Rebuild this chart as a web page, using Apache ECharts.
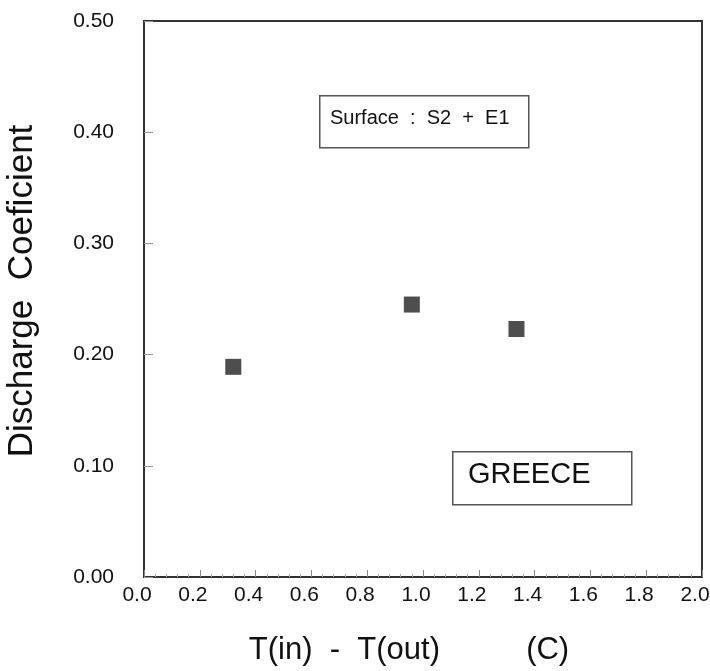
<!DOCTYPE html>
<html>
<head>
<meta charset="utf-8">
<script src="https://cdn.jsdelivr.net/npm/echarts@6/dist/echarts.min.js"></script>
<style>
html,body{margin:0;padding:0;background:#fff;}
#chart{width:710px;height:671px;}
</style>
</head>
<body>
<div id="chart"></div>
<script>
// Data
var xValues = [0.32, 0.96, 1.335];
var yValues = [0.189, 0.245, 0.223];
var xTitle = 'T(in)  -  T(out)          (C)';
var yTitle = 'Discharge  Coeficient';
var note1 = 'Surface  :  S2  +  E1';
var note2 = 'GREECE';

var points = xValues.map(function (x, i) { return [x, yValues[i]]; });

var chart = echarts.init(document.getElementById('chart'), null, {renderer: 'canvas'});
var FONT = 'Liberation Sans, Arial, sans-serif';
chart.setOption({
  backgroundColor: '#ffffff',
  animation: false,
  grid: {left: 144, top: 21, right: 8, bottom: 94, show: true, borderColor: '#333', borderWidth: 2,
    backgroundColor: 'transparent', containLabel: false, outerBoundsMode: 'none'},
  xAxis: {
    type: 'value', min: 0, max: 2, interval: 0.2,
    name: xTitle, nameLocation: 'middle', nameGap: 57,
    nameTextStyle: {fontFamily: FONT, fontSize: 31, color: '#111', lineHeight: 33, padding: [0, 28, 0, 0]},
    axisLine: {show: true, lineStyle: {color: '#333', width: 2}},
    axisTick: {show: true, inside: true, length: 7, lineStyle: {color: '#888'}},
    minorTick: {show: true, splitNumber: 5, length: 3, lineStyle: {color: '#aaa'}},
    splitLine: {show: false},
    axisLabel: {fontFamily: FONT, fontSize: 21, color: '#111', margin: 8, padding: [0, 14, 0, 0],
      formatter: function (v) { return v.toFixed(1); }}
  },
  yAxis: {
    type: 'value', min: 0, max: 0.5, interval: 0.1,
    name: yTitle, nameLocation: 'middle', nameGap: 104, nameRotate: 90,
    nameTextStyle: {fontFamily: FONT, fontSize: 35, color: '#111', padding: [0, 0, 0, 16]},
    axisLine: {show: true, lineStyle: {color: '#333', width: 2}},
    axisTick: {show: true, inside: true, length: 9, lineStyle: {color: '#999'}},
    splitLine: {show: false},
    axisLabel: {fontFamily: FONT, fontSize: 21, color: '#111', margin: 30, padding: [0, 0, 6, 0],
      formatter: function (v) { return v.toFixed(2); }}
  },
  series: [{
    type: 'scatter',
    data: points,
    symbol: 'rect',
    symbolSize: 16,
    itemStyle: {color: '#222'}
  }],
  graphic: [
    {type: 'rect', left: 319, top: 95, shape: {width: 209, height: 52},
      style: {fill: 'transparent', stroke: '#555', lineWidth: 1.5}},
    {type: 'text', left: 330, top: 108, style: {text: note1, font: '20px ' + FONT, fill: '#111'}},
    {type: 'rect', left: 452, top: 451, shape: {width: 179, height: 53},
      style: {fill: 'transparent', stroke: '#555', lineWidth: 1.5}},
    {type: 'text', left: 468, top: 460, style: {text: note2, font: '29px ' + FONT, fill: '#111'}}
  ]
});
</script>
</body>
</html>
